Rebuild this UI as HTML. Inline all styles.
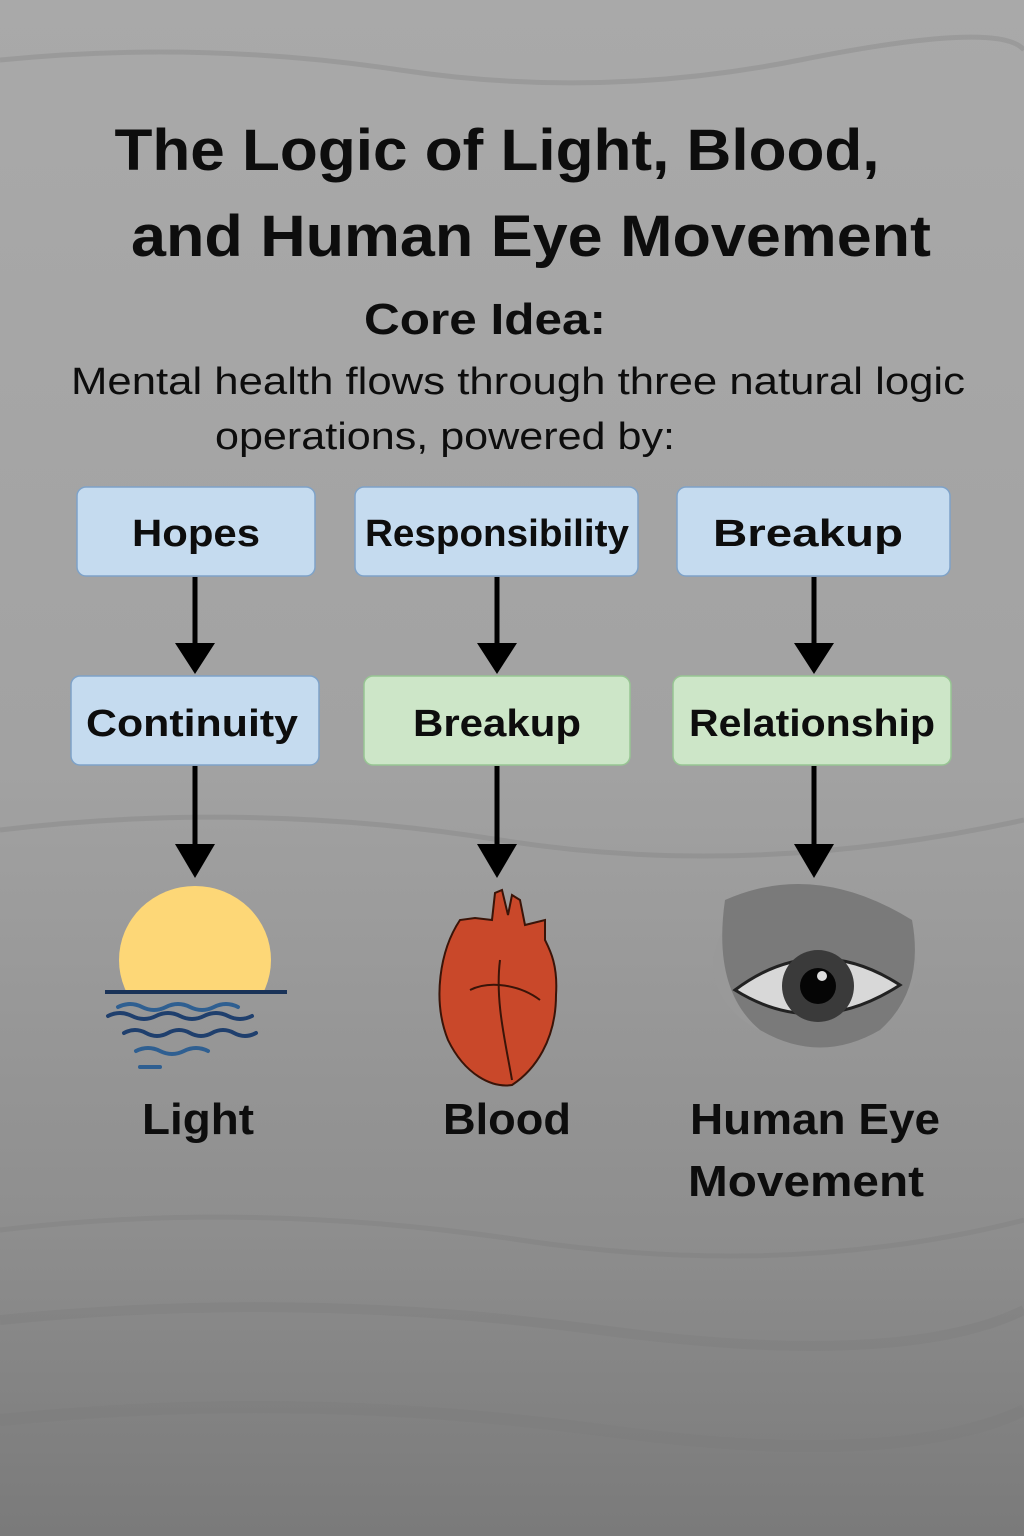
<!DOCTYPE html>
<html><head><meta charset="utf-8"><style>
html,body{margin:0;padding:0;width:1024px;height:1536px;overflow:hidden;background:#9c9c9c}
svg{display:block}
text{font-family:"Liberation Sans",sans-serif;fill:#0d0d0d}
</style></head><body>
<svg width="1024" height="1536" viewBox="0 0 1024 1536" xmlns="http://www.w3.org/2000/svg">
<defs>
<linearGradient id="bg" x1="0" y1="0" x2="0" y2="1">
<stop offset="0" stop-color="#a9a9a9"/><stop offset="0.5" stop-color="#a2a2a2"/><stop offset="0.8" stop-color="#8e8e8e"/><stop offset="1" stop-color="#7a7a7a"/>
</linearGradient>
<clipPath id="sunclip"><rect x="100" y="850" width="200" height="142"/></clipPath>
</defs>
<rect width="1024" height="1536" fill="url(#bg)"/>
<g stroke="#7a7a7a" stroke-width="5" fill="none" opacity="0.3">
<path d="M0 60 Q200 40 400 70 T800 60 T1024 50"/>
<path d="M0 830 Q250 800 500 840 T1024 820"/>
<path d="M0 1230 Q250 1200 520 1240 T1024 1220"/>
<path d="M0 1320 Q300 1290 600 1330 T1024 1310" stroke-width="10"/>
<path d="M0 1420 Q300 1390 600 1430 T1024 1410" stroke-width="12"/>
</g>
<text x="497" y="170" font-size="58" font-weight="bold" text-anchor="middle" textLength="765" lengthAdjust="spacingAndGlyphs">The Logic of Light, Blood,</text>
<text x="531" y="256" font-size="58" font-weight="bold" text-anchor="middle" textLength="800" lengthAdjust="spacingAndGlyphs">and Human Eye Movement</text>
<text x="485" y="334" font-size="44" font-weight="bold" text-anchor="middle" textLength="242" lengthAdjust="spacingAndGlyphs">Core Idea:</text>
<text x="518" y="394" font-size="38" text-anchor="middle" textLength="894" lengthAdjust="spacingAndGlyphs">Mental health flows through three natural logic</text>
<text x="445" y="449" font-size="38" text-anchor="middle" textLength="460" lengthAdjust="spacingAndGlyphs">operations, powered by:</text>
<g stroke-width="1.5">
<rect x="77" y="487" width="238" height="89" rx="9" fill="#c5dbef" stroke="#7ea2c8"/>
<rect x="355" y="487" width="283" height="89" rx="9" fill="#c5dbef" stroke="#7ea2c8"/>
<rect x="677" y="487" width="273" height="89" rx="9" fill="#c5dbef" stroke="#7ea2c8"/>
<rect x="71" y="676" width="248" height="89" rx="9" fill="#c5dbef" stroke="#7ea2c8"/>
<rect x="364" y="676" width="266" height="89" rx="9" fill="#cde6c8" stroke="#97c593"/>
<rect x="673" y="676" width="278" height="89" rx="9" fill="#cde6c8" stroke="#97c593"/>
</g>
<g font-size="38" font-weight="bold" text-anchor="middle">
<text x="196" y="546" textLength="128" lengthAdjust="spacingAndGlyphs">Hopes</text>
<text x="497" y="546" textLength="264" lengthAdjust="spacingAndGlyphs">Responsibility</text>
<text x="808" y="546" textLength="190" lengthAdjust="spacingAndGlyphs">Breakup</text>
<text x="192" y="736" textLength="212" lengthAdjust="spacingAndGlyphs">Continuity</text>
<text x="497" y="736" textLength="168" lengthAdjust="spacingAndGlyphs">Breakup</text>
<text x="812" y="736" textLength="246" lengthAdjust="spacingAndGlyphs">Relationship</text>
</g>
<g stroke="#000" stroke-width="5">
<line x1="195" y1="577" x2="195" y2="645"/><line x1="497" y1="577" x2="497" y2="645"/><line x1="814" y1="577" x2="814" y2="645"/>
<line x1="195" y1="766" x2="195" y2="846"/><line x1="497" y1="766" x2="497" y2="846"/><line x1="814" y1="766" x2="814" y2="846"/>
</g>
<g fill="#000">
<polygon points="175,643 215,643 195,674"/><polygon points="477,643 517,643 497,674"/><polygon points="794,643 834,643 814,674"/>
<polygon points="175,844 215,844 195,878"/><polygon points="477,844 517,844 497,878"/><polygon points="794,844 834,844 814,878"/>
</g>
<ellipse cx="195" cy="960" rx="76" ry="74" fill="#fdd777" clip-path="url(#sunclip)"/>
<line x1="105" y1="992" x2="287" y2="992" stroke="#1a3358" stroke-width="4"/>
<g fill="none" stroke-linecap="round" stroke-width="4">
<path d="M118 1007 q12 -6 24 0 t24 0 t24 0 t24 0 t24 0" stroke="#2f5f91"/>
<path d="M108 1016 q12 -6 24 0 t24 0 t24 0 t24 0 t24 0 t24 0" stroke="#1f3f6d"/>
<path d="M124 1033 q11 -6 22 0 t22 0 t22 0 t22 0 t22 0 t22 0" stroke="#1f3f6d"/>
<path d="M136 1051 q12 -6 24 0 t24 0 t24 0" stroke="#2f5f91"/>
<path d="M140 1067 h20" stroke="#2f5f91"/>
</g>
<g stroke="#3a1408" stroke-width="2">
<path d="M460 920 C440 950 432 1000 448 1040 C465 1075 492 1088 512 1085 C535 1070 556 1040 556 995 C558 965 550 950 545 940 L545 920 L525 925 L520 900 L512 895 L508 915 L502 890 L495 893 L492 920 L475 918 Z" fill="#c9482a"/>
<path d="M500 960 C495 1000 505 1040 512 1080" fill="none"/>
<path d="M470 990 C490 980 520 985 540 1000" fill="none"/>
</g>
<ellipse cx="815" cy="965" rx="102" ry="78" fill="#999"/>
<path d="M725 900 Q815 860 912 920 Q925 990 880 1030 Q820 1065 760 1030 Q712 990 725 900Z" fill="#7a7a7a"/>
<path d="M735 990 Q815 930 900 985 Q815 1040 735 990Z" fill="#d8d8d8" stroke="#222" stroke-width="3"/>
<circle cx="818" cy="986" r="36" fill="#3a3a3a"/>
<circle cx="818" cy="986" r="18" fill="#050505"/>
<circle cx="822" cy="976" r="5" fill="#ddd"/>
<g font-size="44" font-weight="bold" text-anchor="middle">
<text x="198" y="1134" textLength="112" lengthAdjust="spacingAndGlyphs">Light</text>
<text x="507" y="1134" textLength="128" lengthAdjust="spacingAndGlyphs">Blood</text>
<text x="815" y="1134" textLength="250" lengthAdjust="spacingAndGlyphs">Human Eye</text>
<text x="806" y="1196" textLength="236" lengthAdjust="spacingAndGlyphs">Movement</text>
</g>
</svg>
</body></html>
